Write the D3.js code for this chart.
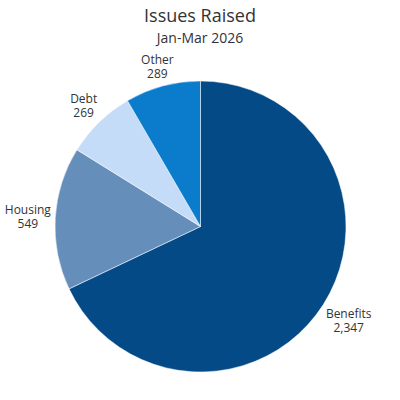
<!DOCTYPE html>
<html>
<head>
<meta charset="utf-8">
<script src="https://cdn.jsdelivr.net/npm/d3@7"></script>
<style>
html,body{margin:0;padding:0;background:#fff;}
svg text{font-family:"Open Sans",sans-serif;}
</style>
</head>
<body>
<svg id="chart" width="400" height="400"></svg>
<script>
const categories = ["Benefits", "Housing", "Debt", "Other"];
const values = [2347, 549, 269, 289];
const colors = ["#034a87", "#658fba", "#c4dcf8", "#0b7bcb"];
const title = "Issues Raised";
const subtitle = "Jan-Mar 2026";

const svg = d3.select("#chart");
const cx = 200.5, cy = 226.5, r = 145.5, pad = 3.5, halfH = 13;

svg.append("text").attr("x", 200).attr("y", 22).attr("text-anchor", "middle")
  .attr("font-size", 18).attr("fill", "#333").text(title);
svg.append("text").attr("x", 200).attr("y", 43).attr("text-anchor", "middle")
  .attr("font-size", 14).attr("fill", "#333").text(subtitle);

const data = categories.map((c, i) => ({name: c, value: values[i], color: colors[i]}));
const pie = d3.pie().value(d => d.value).sort(null);
const arcs = pie(data);
const arc = d3.arc().innerRadius(0).outerRadius(r);

const g = svg.append("g").attr("transform", `translate(${cx},${cy})`);
g.selectAll("path").data(arcs).join("path")
  .attr("d", arc).attr("fill", d => d.data.color)
  .attr("stroke", "#fff").attr("stroke-width", 0.5);

const fmt = d3.format(",");
const lab = g.selectAll("text.lab").data(arcs).join("text").attr("class", "lab")
  .attr("text-anchor", "middle").attr("font-size", 12).attr("fill", "#333");
lab.append("tspan").attr("x", 0).attr("y", -2.7).text(d => d.data.name);
lab.append("tspan").attr("x", 0).attr("y", 11.3).text(d => fmt(d.data.value));
lab.attr("transform", function(d) {
  const a = (d.startAngle + d.endAngle) / 2;
  const dx = Math.sin(a), dy = -Math.cos(a);
  const w = this.getBBox().width;
  const ext = Math.abs(dx) * w / 2 + Math.abs(dy) * halfH;
  const rr = r + pad + ext;
  return `translate(${dx * rr},${dy * rr})`;
});
</script>
</body>
</html>
